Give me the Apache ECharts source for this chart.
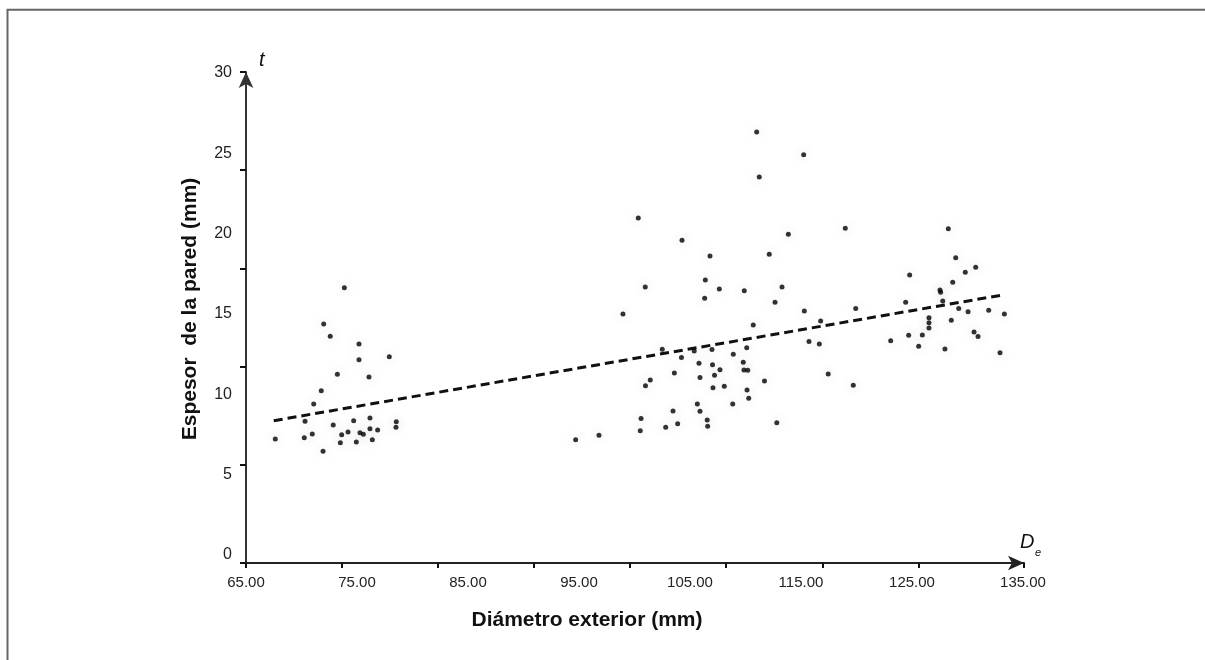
<!DOCTYPE html>
<html>
<head>
<meta charset="utf-8">
<script src="https://cdn.jsdelivr.net/npm/echarts@6/dist/echarts.min.js"></script>
<style>
html,body{margin:0;padding:0;background:#fff;}
#chart{width:1205px;height:660px;}
</style>
</head>
<body>
<div id="chart"></div>
<script>
// Diámetro exterior (mm)
var diametro = [73.86,72.00,72.59,75.18,77.91,75.18,73.23,76.08,71.78,71.10,70.32,76.17,74.70,72.86,78.54,78.51,76.17,76.86,67.64,70.25,70.97,73.62,74.19,75.27,75.57,73.50,74.94,76.38,71.94,94.70,96.80,
111.01,115.24,111.24,100.34,104.28,113.86,118.99,128.27,106.80,112.14,128.94,130.74,129.80,124.79,100.97,106.38,107.64,109.89,113.29,128.67,127.52,127.58,106.32,112.66,98.96,115.30,119.93,124.43,127.77,129.21,130.05,131.91,133.32,116.77,126.53,126.53,126.53,128.54,110.70,115.72,116.65,123.08,124.70,125.93,125.60,127.97,130.59,130.95,132.93,117.45,119.71,102.50,104.23,105.38,106.98,108.90,110.11,105.81,107.03,107.70,109.80,109.86,110.20,103.59,105.90,107.21,111.71,101.42,100.99,107.07,108.09,110.14,110.29,108.85,105.66,105.90,103.47,103.89,102.81,106.55,106.59,100.59,100.52,112.82];
// Espesor de la pared (mm)
var espesor = [16.64,14.38,13.61,13.13,12.34,12.16,11.25,11.08,10.23,9.40,8.32,8.53,8.36,8.09,8.30,7.95,7.86,7.78,7.22,7.30,7.53,7.49,7.66,7.61,7.51,6.99,7.03,7.18,6.45,7.18,7.45,
26.33,24.91,23.53,20.97,19.59,19.96,20.33,20.31,18.61,18.72,18.50,17.91,17.60,17.43,16.68,17.12,16.56,16.45,16.68,16.97,16.49,16.35,15.98,15.73,15.00,15.19,15.35,15.73,15.81,15.35,15.14,15.23,15.00,14.56,14.77,14.46,14.13,14.61,14.32,13.29,13.13,13.34,13.67,13.69,12.99,12.82,13.88,13.60,12.59,11.27,10.57,12.81,12.30,12.70,12.79,12.49,12.90,11.93,11.84,11.53,11.99,11.51,11.50,11.33,11.04,11.18,10.83,10.89,10.54,10.41,10.50,10.27,9.75,9.40,9.40,8.94,8.96,8.17,7.95,8.40,8.02,8.50,7.74,8.23];
// trend line end points
var trendX = [67.5, 133.3];
var trendY = [8.36, 16.2];
// axis tick labels
var xTickLabels = [65, 75, 85, 95, 105, 115, 125, 135];
var yTickLabels = [0, 5, 10, 15, 20, 25, 30];
// tick marks (drawn independently of labels, as in the original figure)
var xTickMarks = [0, 1, 2, 3, 4, 5, 6, 7, 8.1];
var yTickMarks = [0, 1, 2, 3, 4, 5];

var FONT = 'Liberation Sans, Arial, Helvetica, sans-serif';
var points = diametro.map(function (d, i) { return [d, espesor[i]]; });
var trend = trendX.map(function (d, i) { return [d, trendY[i]]; });

var chart = echarts.init(document.getElementById('chart'), null, {renderer: 'canvas'});
chart.setOption({
  backgroundColor: '#fff',
  animation: false,
  grid: [
    {left: 246, right: 182, top: 73, bottom: 105},
    {left: 246, right: 181, top: 72, bottom: 97}
  ],
  xAxis: [
    {
      type: 'value', gridIndex: 0,
      min: xTickLabels[0], max: xTickLabels[xTickLabels.length - 1], interval: 10,
      axisLine: {show: false}, axisTick: {show: false}, splitLine: {show: false},
      axisLabel: {
        margin: 20, color: '#222', fontSize: 15, fontFamily: FONT,
        formatter: function (v) { return v.toFixed(2); }
      }
    },
    {
      type: 'value', gridIndex: 1,
      min: 0, max: xTickMarks[xTickMarks.length - 1],
      axisLine: {show: true, lineStyle: {color: '#222', width: 2}, symbol: ['none', 'arrow'], symbolSize: [11, 16]},
      axisTick: {show: true, customValues: xTickMarks, length: 5, lineStyle: {color: '#111', width: 2}},
      axisLabel: {show: false}, splitLine: {show: false}
    }
  ],
  yAxis: [
    {
      type: 'value', gridIndex: 0,
      min: yTickLabels[0], max: yTickLabels[yTickLabels.length - 1], interval: 5,
      axisLine: {show: false}, axisTick: {show: false}, splitLine: {show: false},
      axisLabel: {margin: 14, color: '#222', fontSize: 16, fontFamily: FONT}
    },
    {
      type: 'value', gridIndex: 1,
      min: 0, max: yTickMarks[yTickMarks.length - 1], interval: 1,
      axisLine: {show: true, lineStyle: {color: '#333', width: 2}, symbol: ['none', 'arrow'], symbolSize: [11, 16]},
      axisTick: {show: true, length: 6, lineStyle: {color: '#111', width: 2}},
      axisLabel: {show: false}, splitLine: {show: false}
    }
  ],
  series: [
    {
      type: 'line', xAxisIndex: 0, yAxisIndex: 0, data: trend,
      symbol: 'none', silent: true, z: 2,
      lineStyle: {color: '#111', width: 3, type: [9, 5]}
    },
    {
      type: 'scatter', xAxisIndex: 0, yAxisIndex: 0, data: points,
      symbolSize: 5, z: 3,
      itemStyle: {color: '#000', shadowBlur: 12, shadowColor: 'rgba(0,0,0,0.25)'}
    }
  ],
  graphic: [
    {type: 'rect', silent: true, shape: {x: 7.5, y: 9.8, width: 1400, height: 900}, style: {fill: 'none', stroke: '#666', lineWidth: 2}},
    {type: 'text', left: 259, top: 50, style: {text: 't', font: 'italic 20px ' + FONT, fill: '#111'}},
    {type: 'text', left: 1020, top: 532, style: {text: 'D', font: 'italic 20px ' + FONT, fill: '#111'}},
    {type: 'text', left: 1035, top: 547, style: {text: 'e', font: 'italic 11px ' + FONT, fill: '#111'}},
    {type: 'text', x: 190, y: 309, rotation: Math.PI / 2,
      style: {text: 'Espesor  de la pared (mm)', font: 'bold 21px ' + FONT, fill: '#111', align: 'center', verticalAlign: 'middle'}},
    {type: 'text', x: 587, y: 620,
      style: {text: 'Diámetro exterior (mm)', font: 'bold 21px ' + FONT, fill: '#111', align: 'center', verticalAlign: 'middle'}}
  ]
});
</script>
</body>
</html>
